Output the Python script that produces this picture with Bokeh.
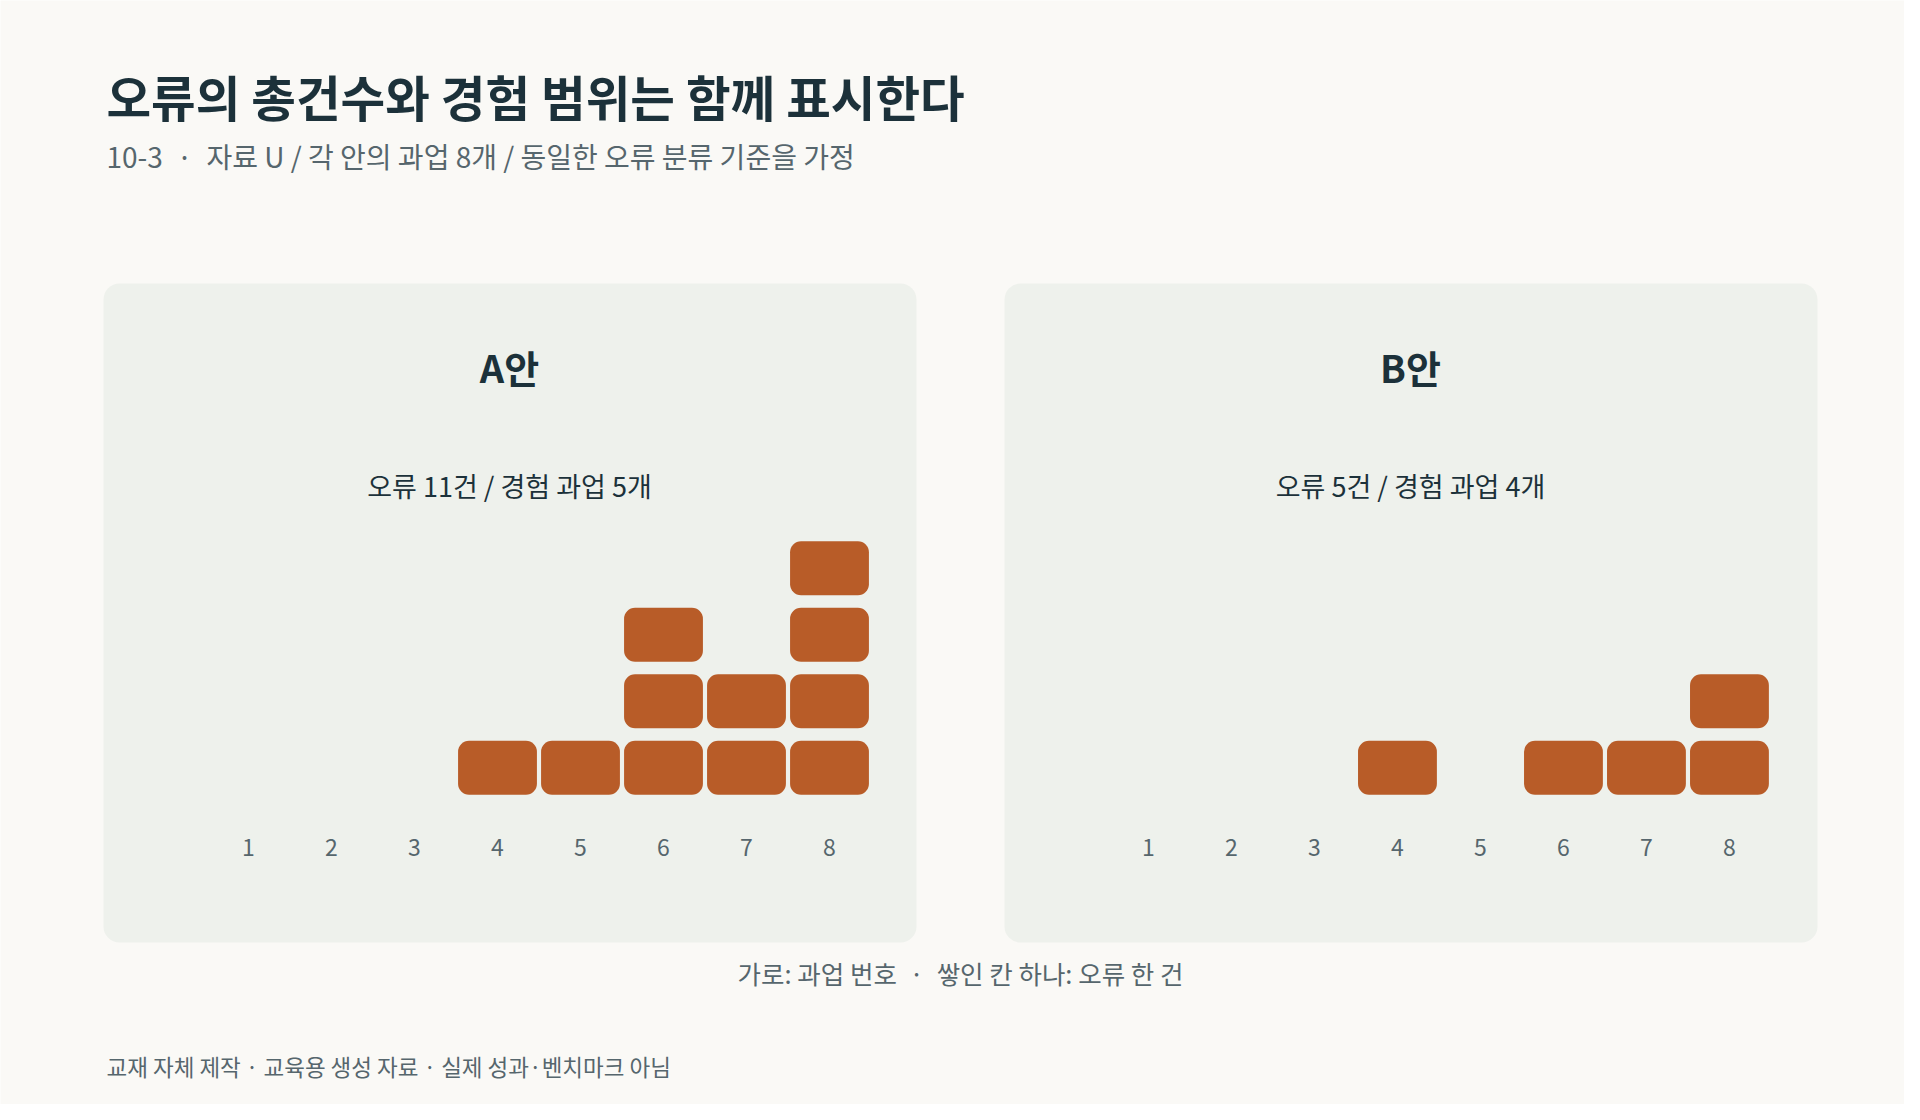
from bokeh.plotting import figure
from bokeh.models import Range1d, Label, BoxAnnotation, ColumnDataSource
from bokeh.core.properties import value
from bokeh.embed import file_html
from bokeh.resources import INLINE

# data
tasks = [1, 2, 3, 4, 5, 6, 7, 8]
errors_a = [0, 0, 0, 1, 1, 3, 2, 4]
errors_b = [0, 0, 0, 1, 0, 1, 1, 2]
plan_names = ["A안", "B안"]
title_txt = "오류의 총건수와 경험 범위는 함께 표시한다"
subtitle_txt = "10-3\u2002·\u2002자료 U / 각 안의 과업 8개 / 동일한 오류 분류 기준을 가정"
caption_txt = "가로: 과업 번호\u2002·\u2002쌓인 칸 하나: 오류 한 건"
footnote_txt = "교재 자체 제작 · 교육용 생성 자료 · 실제 성과·벤치마크 아님"

FONT = "Noto Sans CJK KR"
BG = "#FAF9F6"
PANEL = "#EEF1EC"
BLOCK = "#B85C28"
DARK = "#1C313A"
GRAY = "#56666D"

W, H = 1904, 1104


def py(page_y):
    # page pixel (from top) -> figure y
    return H - page_y


p = figure(width=W, height=H, x_range=Range1d(0, W), y_range=Range1d(0, H),
           toolbar_location=None, output_backend="svg", min_border=0,
           x_axis_location=None, y_axis_location=None)
p.background_fill_color = BG
p.border_fill_color = BG
p.outline_line_color = None
p.grid.visible = False

# task scale per panel + level scale (shared)
p.extra_x_ranges = {"a": Range1d(-1.988, 20.952), "b": Range1d(-12.831, 10.109)}
p.extra_y_ranges = {"lvl": Range1d(-4.564, 12.038)}

p.add_layout(Label(x=106, y=py(95), text=title_txt, text_font=FONT,
                   text_font_size="48.5px", text_font_style="bold",
                   text_color=DARK, text_baseline="middle"))
p.add_layout(Label(x=106, y=py(155), text=subtitle_txt, text_font=FONT,
                   text_font_size="28px", text_color=GRAY,
                   text_baseline="middle"))

panels = [("a", 103, errors_a), ("b", 1004, errors_b)]
for (rname, left, counts), name in zip(panels, plan_names):
    p.add_layout(BoxAnnotation(left=left, right=left + 813,
                               top=py(283), bottom=py(942),
                               fill_color=PANEL, fill_alpha=1,
                               line_color=None, border_radius=16,
                               level="underlay"))
    cx = left + 406
    p.add_layout(Label(x=cx, y=py(366), text=name, text_font=FONT,
                       text_font_size="38px", text_font_style="bold",
                       text_color=DARK, text_align="center",
                       text_baseline="middle"))
    total = sum(counts)
    used = sum(1 for c in counts if c > 0)
    p.add_layout(Label(x=cx, y=py(485),
                       text="오류 %d건 / 경험 과업 %d개" % (total, used),
                       text_font=FONT, text_font_size="27px",
                       text_color=DARK, text_align="center",
                       text_baseline="middle"))

    xs, bots, tops = [], [], []
    for t, c in zip(tasks, counts):
        for lv in range(1, c + 1):
            xs.append(t)
            bots.append(lv - 1 + 0.095)
            tops.append(lv - 0.095)
    src = ColumnDataSource(data=dict(x=xs, bottom=bots, top=tops))
    p.vbar(x="x", width=0.95, bottom="bottom", top="top", source=src,
           fill_color=BLOCK, line_color=None, border_radius=11,
           x_range_name=rname, y_range_name="lvl")

    p.text(x=tasks, y=[-0.70] * len(tasks), text=[str(t) for t in tasks],
           text_font=value(FONT), text_font_size="23px", text_color=GRAY,
           text_align="center", text_baseline="middle",
           x_range_name=rname, y_range_name="lvl")

p.add_layout(Label(x=960, y=py(972), text=caption_txt, text_font=FONT,
                   text_font_size="25.5px", text_color=GRAY,
                   text_align="center", text_baseline="middle"))
p.add_layout(Label(x=106, y=py(1065), text=footnote_txt, text_font=FONT,
                   text_font_size="22.5px", text_color=GRAY,
                   text_baseline="middle"))

open("out.html", "w").write(file_html(p, INLINE))
